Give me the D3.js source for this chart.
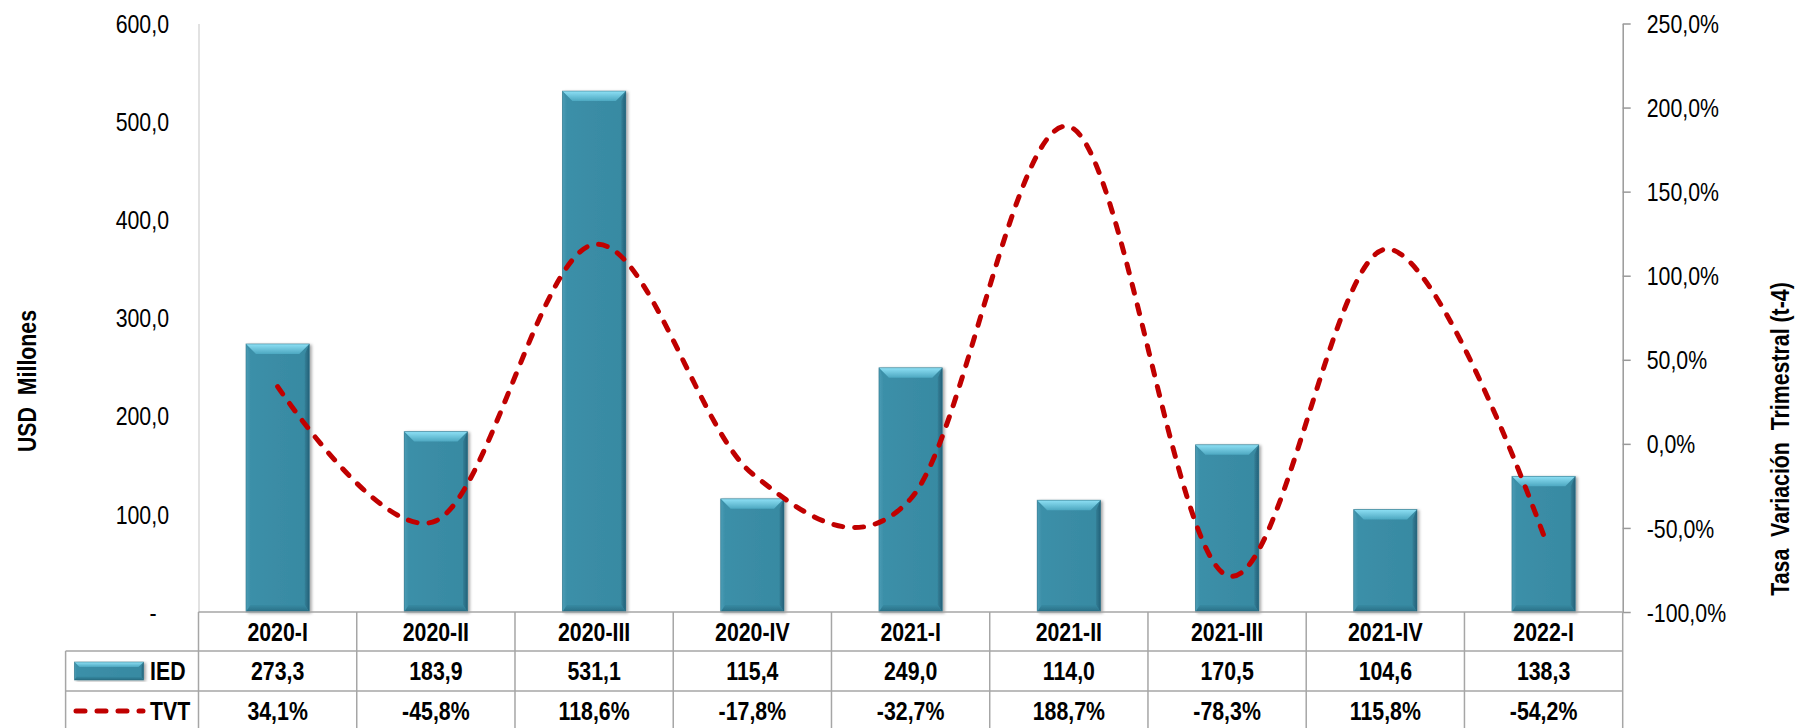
<!DOCTYPE html>
<html><head><meta charset="utf-8">
<script src="https://cdn.jsdelivr.net/npm/d3@7"></script>
<style>
html,body{margin:0;padding:0;background:#fff;}
svg{display:block;}
text{white-space:pre;}
</style></head>
<body>
<svg id="c" width="1795" height="728"></svg>
<script>
// ---- data ----
const categories = ["2020-I","2020-II","2020-III","2020-IV","2021-I","2021-II","2021-III","2021-IV","2022-I"];
const iedValues = [273.3,183.9,531.1,115.4,249.0,114.0,170.5,104.6,138.3];
const tvtValues = [34.1,-45.8,118.6,-17.8,-32.7,188.7,-78.3,115.8,-54.2];
const leftTicks = [0,100,200,300,400,500,600];
const rightTicks = [-100,-50,0,50,100,150,200,250];
const seriesNames = ["IED","TVT"];
const leftTitle = "USD  Millones";
const rightTitle = "Tasa  Variación  Trimestral (t-4)";

// ---- layout ----
const L = 198.5, R = 1622.7, T = 23.5, B = 612;
const rowH = [612, 651, 691, 731];
const legendLeft = 65.6;
const FONT = "'Liberation Sans Narrow','Arial Narrow','Liberation Sans',Arial,sans-serif";
const NARROW = 0.82;

const loc = d3.formatLocale({decimal:",", thousands:".", grouping:[3], currency:["",""], minus:"-"});
const f1 = loc.format(",.1f");

const svg = d3.select("#c");
const defs = svg.append("defs");

const x = d3.scaleBand().domain(categories).range([L, R]).paddingInner(0).paddingOuter(0);
const yL = d3.scaleLinear().domain([0,600]).range([B, T]);
const yR = d3.scaleLinear().domain([-100,250]).range([B, T]);

// gradients
function lg(id, x1,y1,x2,y2, stops){
  const g = defs.append("linearGradient").attr("id",id)
    .attr("x1",x1).attr("y1",y1).attr("x2",x2).attr("y2",y2);
  stops.forEach(s=>g.append("stop").attr("offset",s[0]).attr("stop-color",s[1]));
}
lg("face","0","0","1","0",[["0","#3B90A9"],["0.5","#3A8CA5"],["1","#378AA2"]]);
lg("topbev","0","0","0","1",[["0","#8EE0F5"],["1","#4DA8C1"]]);
lg("rightbev","0","0","1","0",[["0","#347F96"],["1","#24617A"]]);
lg("leftbev","0","0","1","0",[["0","#4A9CB5"],["1","#3C8FA8"]]);
lg("botbev","0","0","0","1",[["0","#378AA2"],["1","#286D84"]]);
const flt = defs.append("filter").attr("id","shadow").attr("x","-20%").attr("y","-5%").attr("width","140%").attr("height","115%");
flt.append("feDropShadow").attr("dx",2).attr("dy",1).attr("stdDeviation",1.8).attr("flood-color","#000").attr("flood-opacity",0.35);

function bevelBar(g, x0, y0, w, h, bev){
  const gg = g.append("g").attr("filter","url(#shadow)");
  gg.append("rect").attr("x",x0).attr("y",y0).attr("width",w).attr("height",h).attr("fill","url(#face)");
  const b = Math.min(bev, h/2, w/2);
  const bs = Math.min(b, w/4);
  gg.append("path").attr("d",`M${x0},${y0} L${x0+bs*0.45},${y0+b} L${x0+bs*0.45},${y0+h-b*0.7} L${x0},${y0+h} Z`).attr("fill","url(#leftbev)");
  gg.append("path").attr("d",`M${x0+w},${y0} L${x0+w-bs*0.45},${y0+b} L${x0+w-bs*0.45},${y0+h-b*0.7} L${x0+w},${y0+h} Z`).attr("fill","url(#rightbev)");
  gg.append("path").attr("d",`M${x0},${y0+h} L${x0+bs*0.45},${y0+h-b*0.7} L${x0+w-bs*0.45},${y0+h-b*0.7} L${x0+w},${y0+h} Z`).attr("fill","url(#botbev)");
  gg.append("path").attr("d",`M${x0},${y0} L${x0+w},${y0} L${x0+w-bs},${y0+b} L${x0+bs},${y0+b} Z`).attr("fill","url(#topbev)");
  gg.append("rect").attr("x",x0).attr("y",y0).attr("width",w).attr("height",h).attr("fill","none").attr("stroke","#2A6C80").attr("stroke-width",0.8).attr("stroke-opacity",0.6);
}

// ---- left axis ----
const axL = svg.append("g").attr("transform",`translate(${L},0)`)
  .call(d3.axisLeft(yL).tickValues(leftTicks).tickSize(0).tickPadding(29.5)
    .tickFormat(d => d===0 ? "-" : f1(d)));
axL.select(".domain").attr("stroke","#D9D9D9").attr("stroke-width",1.5);
axL.selectAll("text").attr("font-family",FONT).attr("font-size",26).attr("fill","#000")
  .attr("dy","0.35em")
  .attr("x", d => d===0 ? -42 : -29.5);

// ---- right axis ----
const axR = svg.append("g").attr("transform",`translate(${R},0)`)
  .call(d3.axisRight(yR).tickValues(rightTicks).tickSize(8).tickSizeOuter(0).tickPadding(16)
    .tickFormat(d => f1(d)+"%"));
axR.select(".domain").attr("stroke","#999").attr("stroke-width",1.5);
axR.selectAll(".tick line").attr("stroke","#999").attr("stroke-width",1.5);
axR.selectAll("text").attr("font-family",FONT).attr("font-size",26).attr("fill","#000").attr("dy","0.35em");

// ---- bars ----
const barW = x.bandwidth()*0.4;
const gBars = svg.append("g");
categories.forEach((c,i)=>{
  const cx = x(c) + x.bandwidth()/2;
  const y0 = yL(iedValues[i]);
  bevelBar(gBars, cx-barW/2, y0, barW, B-y0, 10);
});

// ---- line ----
const line = d3.line()
  .x((d,i)=> x(categories[i]) + x.bandwidth()/2)
  .y(d => yR(d))
  .curve(d3.curveCatmullRom.alpha(0));
svg.append("path").datum(tvtValues).attr("d",line)
  .attr("fill","none").attr("stroke","#C00000").attr("stroke-width",5)
  .attr("stroke-dasharray","9 12").attr("stroke-linecap","round");

// ---- table ----
const gT = svg.append("g");
const gridCol = "#A6A6A6";
gT.append("line").attr("x1",L).attr("x2",R).attr("y1",rowH[0]).attr("y2",rowH[0]).attr("stroke",gridCol).attr("stroke-width",1.5);
[rowH[1],rowH[2]].forEach(y=>gT.append("line").attr("x1",legendLeft).attr("x2",R).attr("y1",y).attr("y2",y).attr("stroke",gridCol).attr("stroke-width",1.5));
const bounds = categories.map(c=>x(c)).concat([R]);
bounds.forEach(bx=>gT.append("line").attr("x1",bx).attr("x2",bx).attr("y1",rowH[0]).attr("y2",rowH[3]).attr("stroke",gridCol).attr("stroke-width",1.5));
gT.append("line").attr("x1",legendLeft).attr("x2",legendLeft).attr("y1",rowH[1]).attr("y2",rowH[3]).attr("stroke",gridCol).attr("stroke-width",1.5);

function cellText(txt, cx, cy, anchor){
  gT.append("text").attr("x",cx).attr("y",cy).attr("dy","0.35em")
    .attr("text-anchor",anchor||"middle").attr("font-family",FONT)
    .attr("font-weight","bold").attr("font-size",26).attr("fill","#000").text(txt);
}
const rowMid = [ (rowH[0]+rowH[1])/2, (rowH[1]+rowH[2])/2, (rowH[2]+rowH[3])/2 ];
categories.forEach((c,i)=>{
  const cx = x(c)+x.bandwidth()/2;
  cellText(c, cx, rowMid[0]);
  cellText(f1(iedValues[i]), cx, rowMid[1]);
  cellText(f1(tvtValues[i])+"%", cx, rowMid[2]);
});
// legend
bevelBar(gT, 74.5, rowMid[1]-9, 69, 18, 5);
cellText(seriesNames[0], 150, rowMid[1], "start");
gT.append("line").attr("x1",76).attr("x2",143).attr("y1",rowMid[2]).attr("y2",rowMid[2])
  .attr("stroke","#C00000").attr("stroke-width",5).attr("stroke-dasharray","9 12").attr("stroke-linecap","round");
cellText(seriesNames[1], 150, rowMid[2], "start");

// ---- axis titles ----
svg.append("text").attr("transform",`translate(27,381) rotate(-90)`)
  .attr("text-anchor","middle").attr("dy","0.35em").attr("font-family",FONT).attr("font-weight","bold")
  .attr("font-size",26).attr("fill","#000").text(leftTitle);
svg.append("text").attr("transform",`translate(1780,439) rotate(-90)`)
  .attr("text-anchor","middle").attr("dy","0.35em").attr("font-family",FONT).attr("font-weight","bold")
  .attr("font-size",26).attr("fill","#000").text(rightTitle);

// condense text to mimic a narrow typeface (only if the narrow face is missing)
const probe = svg.append("text").attr("font-family","'Liberation Sans Narrow','Arial Narrow',monospace").attr("font-size",50).text("MMMMiiii");
const probe2 = svg.append("text").attr("font-family","monospace").attr("font-size",50).text("MMMMiiii");
const hasNarrow = Math.abs(probe.node().getComputedTextLength() - probe2.node().getComputedTextLength()) > 1;
probe.remove(); probe2.remove();
if(!hasNarrow){
  svg.selectAll("text").each(function(){
    const s = d3.select(this);
    const tx = +s.attr("x") || 0, ty = +s.attr("y") || 0;
    const tr = s.attr("transform") || "";
    s.attr("x",0).attr("y",0)
     .attr("transform", `${tr} translate(${tx},${ty}) scale(${NARROW},1)`);
  });
}
</script>
</body></html>
